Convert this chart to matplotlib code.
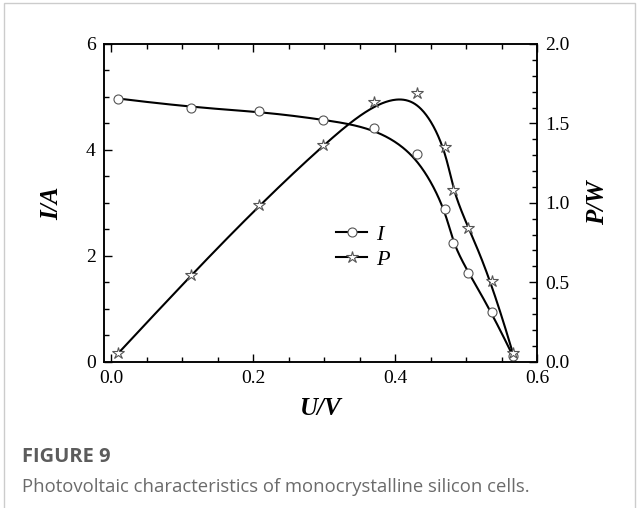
import numpy as np
import matplotlib
matplotlib.use("Agg")
import matplotlib.pyplot as plt
from matplotlib.lines import Line2D
from matplotlib.ticker import MultipleLocator

# measured points of the cell
U = [0.010, 0.113, 0.209, 0.299, 0.370, 0.431, 0.471, 0.481, 0.503, 0.536, 0.566]
I = [4.97, 4.80, 4.73, 4.57, 4.42, 3.92, 2.88, 2.25, 1.68, 0.94, 0.11]
P = [0.053, 0.548, 0.988, 1.364, 1.633, 1.690, 1.350, 1.081, 0.844, 0.508, 0.053]

caption_title = "FIGURE 9"
caption_text = "Photovoltaic characteristics of monocrystalline silicon cells."


def bspline(px, py, k=3, num=400):
    # clamped uniform B-spline using the points as control points
    px = np.asarray(px, float)
    py = np.asarray(py, float)
    n = len(px)
    t = np.concatenate([np.zeros(k), np.linspace(0, 1, n - k + 1), np.ones(k)])
    u = np.linspace(0, 1, num)
    u[-1] -= 1e-9
    B = np.zeros((num, len(t) - 1))
    for i in range(len(t) - 1):
        B[:, i] = (t[i] <= u) & (u < t[i + 1])
    for d in range(1, k + 1):
        Bn = np.zeros((num, len(t) - 1 - d))
        for i in range(len(t) - 1 - d):
            a = 0
            b = 0
            if t[i + d] > t[i]:
                a = (u - t[i]) / (t[i + d] - t[i]) * B[:, i]
            if t[i + d + 1] > t[i + 1]:
                b = (t[i + d + 1] - u) / (t[i + d + 1] - t[i + 1]) * B[:, i + 1]
            Bn[:, i] = a + b
        B = Bn
    return B @ px, B @ py


plt.rcParams['font.family'] = ['Liberation Serif', 'DejaVu Serif']

fig = plt.figure(figsize=(6.39, 5.08), dpi=100)
ax = fig.add_axes([0.1628, 0.288, 0.6776, 0.6254])
ax2 = ax.twinx()

lw = 1.5
mk = dict(markerfacecolor='white', markeredgecolor='#555555', markeredgewidth=0.8, linestyle='none')

xs, ys = bspline(U, I)
ax.plot(xs, ys, color='black', lw=lw, zorder=2)
ax.plot(U, I, marker='o', markersize=6.5, zorder=3, **mk)

xs, ys = bspline(U, P)
ax2.plot(xs, ys, color='black', lw=lw, zorder=2)
ax2.plot(U, P, marker='*', markersize=9, zorder=3, **mk)

ax.set_xlim(-0.01, 0.6)
ax.set_ylim(0, 6)
ax2.set_ylim(0, 2.0)

ax.xaxis.set_major_locator(MultipleLocator(0.2))
ax.xaxis.set_minor_locator(MultipleLocator(0.05))
ax.yaxis.set_major_locator(MultipleLocator(2))
ax.yaxis.set_minor_locator(MultipleLocator(0.5))
ax2.yaxis.set_major_locator(MultipleLocator(0.5))
ax2.yaxis.set_minor_locator(MultipleLocator(0.1))

ax.set_xticks([0.0, 0.2, 0.4, 0.6])
ax.set_xticklabels(['0.0', '0.2', '0.4', '0.6'])
ax2.set_yticks([0.0, 0.5, 1.0, 1.5, 2.0])
ax2.set_yticklabels(['0.0', '0.5', '1.0', '1.5', '2.0'])

ax.tick_params(axis='x', which='both', direction='in', top=True, labelsize=14, pad=6)
ax.tick_params(axis='y', which='both', direction='in', right=False, labelsize=14, pad=6)
ax2.tick_params(axis='y', which='both', direction='in', labelsize=14, pad=6)
for a in (ax, ax2):
    a.tick_params(which='major', length=6, width=1)
    a.tick_params(which='minor', length=3.5, width=1)
    for s in a.spines.values():
        s.set_linewidth(1.1)

lab = dict(fontsize=18, fontweight='bold', fontstyle='italic')
ax.set_xlabel('U/V', labelpad=7, **lab)
ax.set_ylabel('I/A', labelpad=16, **lab)
ax2.set_ylabel('P/W', labelpad=12, **lab)

handles = [
    Line2D([], [], color='black', lw=lw, marker='o', markersize=6.5,
           markerfacecolor='white', markeredgecolor='#555555', markeredgewidth=0.8),
    Line2D([], [], color='black', lw=lw, marker='*', markersize=9,
           markerfacecolor='white', markeredgecolor='#555555', markeredgewidth=0.8),
]
ax.legend(handles, ['I', 'P'], loc='center left', bbox_to_anchor=(0.49, 0.36),
          frameon=False, handlelength=1.4, handletextpad=0.4, labelspacing=0.2,
          prop=dict(family='Liberation Serif', style='italic', size=16))

# caption block
fig.text(22 / 639, 1 - 457 / 508, caption_title, fontsize=14.5, fontweight='bold',
         color='#5c5c5c', family='Open Sans', va='center', ha='left')
fig.text(22 / 639, 1 - 487 / 508, caption_text, fontsize=13.3, color='#6b6b6b',
         family='Open Sans', va='center', ha='left')

# thin frame around the figure panel
frame = plt.Rectangle((4 / 639, -0.05), 631 / 639, 1.05 - 3 / 508, transform=fig.transFigure,
                      fill=False, edgecolor='#cccccc', lw=1.0)
fig.add_artist(frame)

fig.savefig('out.png', dpi=100)
